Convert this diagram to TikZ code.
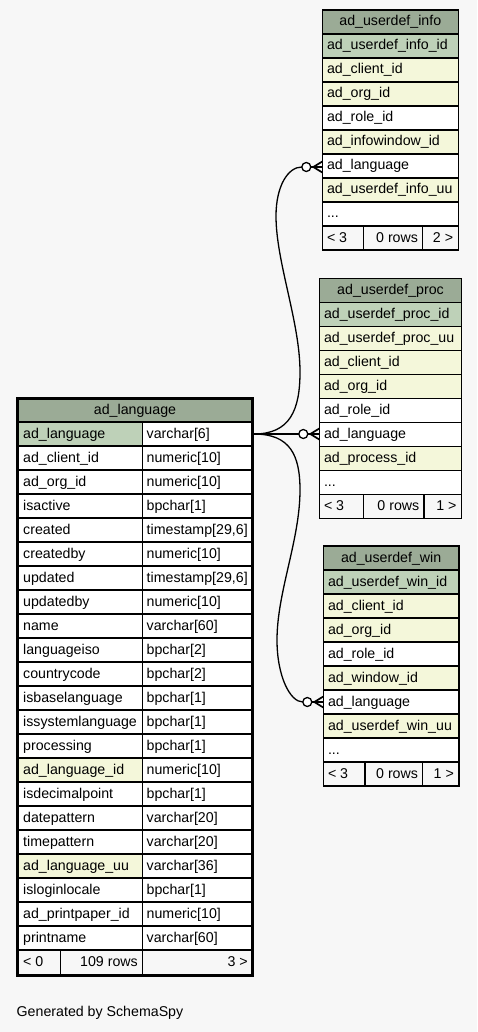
\documentclass[tikz,border=0pt]{standalone}
\usepackage{fontspec}
\setmainfont{Liberation Sans}
\definecolor{bgc}{HTML}{F7F7F7}
\definecolor{hdr}{HTML}{9BAB96}
\definecolor{pkc}{HTML}{BED1B8}
\definecolor{ixc}{HTML}{F4F7DA}
\definecolor{plain}{HTML}{FFFFFF}
\newcommand\tsz{timestamp[29,6]}
\newcommand\ddd{...}
% #1 id, #2 L, #3 R, #4 top, #5 title, #6 rows, #7 D1, #8 D2, #9 right footer
\newcommand\childtable[9]{%
  \fill[hdr] (#2,#4) rectangle (#3,{#4+24});
  \node[ttl] (#1-h) at ({(#2+#3)/2},{#4+16}) {#5};
  \foreach \c/\t [count=\i] in {#6} {
    \fill[\c] (#2,{#4+24*\i}) rectangle (#3,{#4+24*\i+24});
    \node[txt] (#1-\i) at ({#2+4.5},{#4+24*\i+16}) {\t};
    \draw[grid] (#2,{#4+24*\i}) -- (#3,{#4+24*\i});
  }
  \fill[bgc] (#2,{#4+216}) rectangle (#3,{#4+240});
  \draw[grid] (#2,{#4+216}) -- (#3,{#4+216});
  \draw[grid] (#7,{#4+216}) -- (#7,{#4+240});
  \draw[grid] (#8,{#4+216}) -- (#8,{#4+240});
  \node[txt] (#1-f1) at ({#2+4.5},{#4+232}) {< 3};
  \node[txtr] (#1-f2) at ({#8-4.5},{#4+232}) {0 rows};
  \node[txtr] (#1-f3) at ({#3-5},{#4+232}) {#9};
  \draw[grid] (#2,#4) rectangle (#3,{#4+240});
}
\begin{document}
\begin{tikzpicture}[x=1pt,y=-1pt,
  tfont/.style={font=\fontsize{14.2}{16}\selectfont},
  txt/.style={tfont,anchor=base west,inner sep=0pt},
  txtr/.style={tfont,anchor=base east,inner sep=0pt},
  ttl/.style={tfont,anchor=base,inner sep=0pt},
  grid/.style={line width=1.4pt,draw=black,line cap=rect},
  conn/.style={line width=1.3pt,draw=black},
  foot/.style={line width=1.7pt,draw=black},
  thick border/.style={line width=3pt,draw=black},
]
\fill[bgc] (0,0) rectangle (477,1032);
\useasboundingbox (0,0) rectangle (477,1032);

% ---------- child tables ----------
\childtable{info}{322.3}{458.3}{10}{ad\_userdef\_info}%
 {pkc/ad\_userdef\_info\_id, ixc/ad\_client\_id, ixc/ad\_org\_id, plain/ad\_role\_id, ixc/ad\_infowindow\_id, plain/ad\_language, ixc/ad\_userdef\_info\_uu, plain/\ddd}%
 {363.3}{422.7}{2 >}
\childtable{proc}{319.3}{461.7}{278.3}{ad\_userdef\_proc}%
 {pkc/ad\_userdef\_proc\_id, ixc/ad\_userdef\_proc\_uu, ixc/ad\_client\_id, ixc/ad\_org\_id, plain/ad\_role\_id, plain/ad\_language, ixc/ad\_process\_id, plain/\ddd}%
 {363.3}{424}{1 >}
\childtable{win}{323.3}{459}{546}{ad\_userdef\_win}%
 {pkc/ad\_userdef\_win\_id, ixc/ad\_client\_id, ixc/ad\_org\_id, plain/ad\_role\_id, ixc/ad\_window\_id, plain/ad\_language, ixc/ad\_userdef\_win\_uu, plain/\ddd}%
 {365}{422.7}{1 >}

% ---------- ad_language ----------
\fill[plain] (17.5,398) rectangle (252.5,975);
\fill[hdr] (17.5,398) rectangle (252.5,422);
\node[ttl] (lang-h) at (135,414.5) {ad\_language};
\foreach \c/\a/\b [count=\i] in {
  pkc/ad\_language/varchar[6],
  plain/ad\_client\_id/numeric[10],
  plain/ad\_org\_id/numeric[10],
  plain/isactive/bpchar[1],
  plain/created/\tsz,
  plain/createdby/numeric[10],
  plain/updated/\tsz,
  plain/updatedby/numeric[10],
  plain/name/varchar[60],
  plain/languageiso/bpchar[2],
  plain/countrycode/bpchar[2],
  plain/isbaselanguage/bpchar[1],
  plain/issystemlanguage/bpchar[1],
  plain/processing/bpchar[1],
  ixc/ad\_language\_id/numeric[10],
  plain/isdecimalpoint/bpchar[1],
  plain/datepattern/varchar[20],
  plain/timepattern/varchar[20],
  ixc/ad\_language\_uu/varchar[36],
  plain/isloginlocale/bpchar[1],
  plain/ad\_printpaper\_id/numeric[10],
  plain/printname/varchar[60]} {
  \fill[\c] (17.5,{398+24*\i}) rectangle (142.3,{422+24*\i});
  \node[txt] (lang-\i) at (23,{414+24*\i}) {\a};
  \node[txt] (lang-t\i) at (146.5,{414+24*\i}) {\b};
  \draw[grid] (17.5,{398+24*\i}) -- (252.5,{398+24*\i});
}
\fill[bgc] (17.5,950) rectangle (252.5,975);
\draw[grid] (17.5,950) -- (252.5,950);
\draw[grid] (142.3,422) -- (142.3,975);
\draw[grid] (60.7,950) -- (60.7,975);
\node[txt] (lang-f1) at (23,966) {< 0};
\node[txtr] (lang-f2) at (138,966) {109 rows};
\node[txtr] (lang-f3) at (248,966) {3 >};
\draw[thick border] (17.5,398) rectangle (252.5,975);

% ---------- connectors ----------
\coordinate (pk) at (254,434);
\coordinate (infoE) at (322.3,167);
\coordinate (procE) at (319.3,434);
\coordinate (winE) at (323.3,702);
\coordinate (infoC) at (301.8,167);
\coordinate (procC) at (298.8,434);
\coordinate (winC) at (302.8,702);

\draw[conn] (pk) .. controls (290,434) and (300,410) .. (300,372)
  .. controls (300,322) and (276,262) .. (276,216)
  .. controls (276,186) and (288,167) .. (infoC);
\draw[conn] (pk) -- (procC);
\draw[conn] (pk) .. controls (290,434) and (300,455) .. (300,490)
  .. controls (300,540) and (277,592) .. (277,640)
  .. controls (277,676) and (290,702) .. (winC);

\foreach \e in {infoE,procE,winE} {
  \draw[conn] (\e) ++(-12,0) -- (\e);
  \draw[foot] (\e) ++(-9,0) -- ++(9,-5.5);
  \draw[foot] (\e) ++(-9,0) -- ++(9,5.5);
  \draw[conn,fill=white] (\e) ++(-16,0) circle[radius=4.5];
}

\node[txt] (gen) at (16.5,1016.5) {Generated by SchemaSpy};
\end{tikzpicture}
\end{document}
